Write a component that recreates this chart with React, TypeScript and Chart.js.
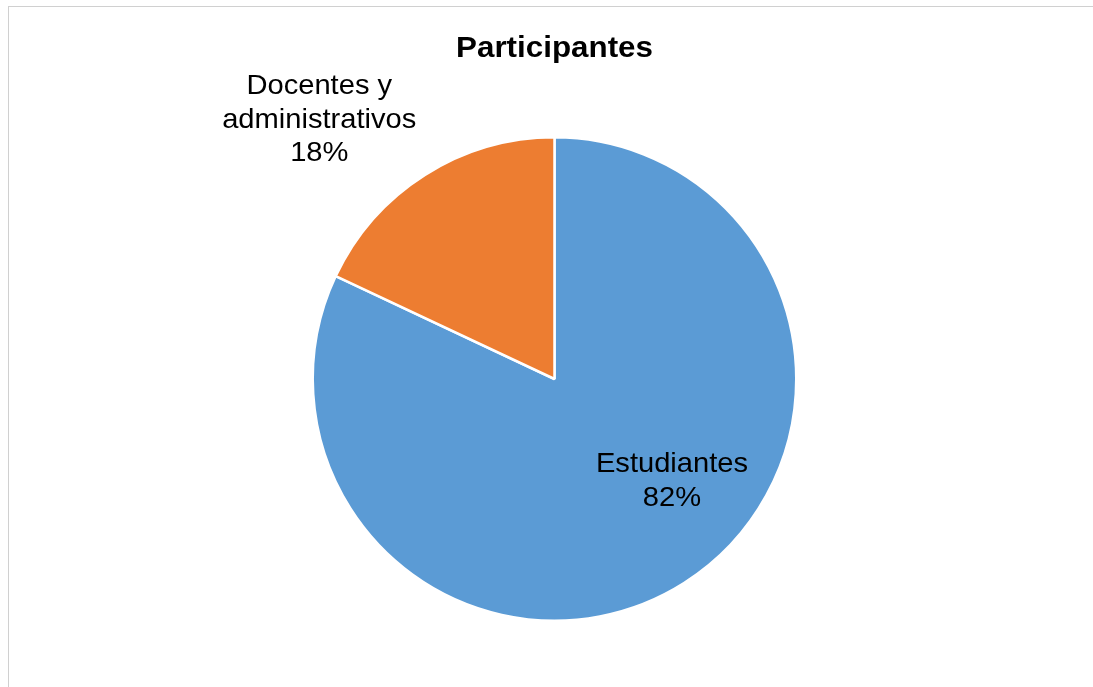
import React, { useEffect, useRef } from "react";
import { Chart, registerables } from "chart.js";

Chart.register(...registerables);

const TITLE = "Participantes";
const categories = ["Estudiantes", "Docentes y administrativos"];
const labelLines = [["Estudiantes"], ["Docentes y", "administrativos"]];
const percentages = [82, 18];
const colors = ["#5B9BD5", "#ED7D31"];

// label anchors relative to pie center, in units of radius (x center, y of first baseline)
const labelAnchors = [
  { fx: 0.484, fy: 0.384 },
  { fx: -0.969, fy: -1.174 },
];

const labelPlugin = {
  id: "pieLabels",
  afterDraw(chart: any) {
    const ctx = chart.ctx;
    const meta = chart.getDatasetMeta(0);
    const arc0 = meta.data[0];
    if (!arc0) return;
    const cx = arc0.x;
    const cy = arc0.y;
    const r = arc0.outerRadius + 1;
    ctx.save();
    ctx.fillStyle = "#000000";
    ctx.textAlign = "center";
    ctx.textBaseline = "alphabetic";
    ctx.font = "bold 30px 'Liberation Sans', Arial, sans-serif";
    ctx.save();
    ctx.translate(cx, 57);
    ctx.scale(1.045, 1);
    ctx.fillText(TITLE, 0, 0);
    ctx.restore();
    ctx.font = "28px 'Liberation Sans', Arial, sans-serif";
    const lineH = 33.5;
    percentages.forEach((v, i) => {
      const a = labelAnchors[i];
      const x = cx + a.fx * r;
      let y = cy + a.fy * r;
      const lines = [...labelLines[i], v + "%"];
      lines.forEach((ln) => {
        ctx.save();
        ctx.translate(x, y);
        ctx.scale(1.04, 1);
        ctx.fillText(ln, 0, 0);
        ctx.restore();
        y += lineH;
      });
    });
    ctx.restore();
  },
};

export default function App() {
  const ref = useRef<HTMLCanvasElement | null>(null);
  useEffect(() => {
    if (!ref.current) return;
    const chart = new Chart(ref.current, {
      type: "pie",
      data: {
        labels: categories,
        datasets: [
          {
            data: percentages,
            backgroundColor: colors,
            borderColor: "#ffffff",
            borderWidth: 2.5,
          },
        ],
      },
      options: {
        animation: false,
        responsive: false,
        maintainAspectRatio: false,
        layout: { padding: { left: 311, right: 295, top: 136, bottom: 65 } },
        plugins: {
          legend: { display: false },
          tooltip: { enabled: false },
          title: { display: false },
        },
      },
      plugins: [labelPlugin],
    });
    return () => chart.destroy();
  }, []);

  return (
    <div style={{ position: "fixed", left: 0, top: 0, width: 1093, height: 687, background: "#ffffff" }}>
      <div
        style={{
          position: "absolute",
          left: 8,
          top: 6,
          width: 1200,
          height: 800,
          border: "1.5px solid #d0d0d0",
          boxSizing: "border-box",
        }}
      />
      <canvas ref={ref} width={1093} height={687} style={{ position: "absolute", left: 0, top: 0 }} />
    </div>
  );
}
